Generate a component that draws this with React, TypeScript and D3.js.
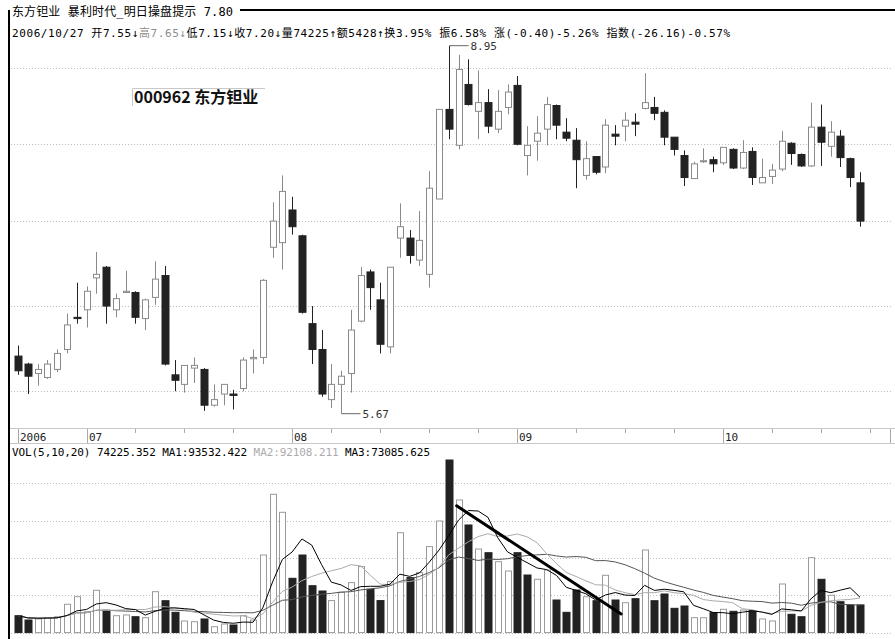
import React, { useEffect, useRef } from "react";
import * as d3 from "d3";

// 东方钽业 000962 日K线, 2006-06-22 ~ 2006-10-27
const dates = [
  "2006-06-22", "2006-06-23", "2006-06-26", "2006-06-27", "2006-06-28", "2006-06-29", "2006-06-30",
  "2006-07-03", "2006-07-04", "2006-07-05", "2006-07-06", "2006-07-07", "2006-07-10", "2006-07-11",
  "2006-07-12", "2006-07-13", "2006-07-14", "2006-07-17", "2006-07-18", "2006-07-19", "2006-07-20",
  "2006-07-21", "2006-07-24", "2006-07-25", "2006-07-26", "2006-07-27", "2006-07-28", "2006-07-31",
  "2006-08-01", "2006-08-02", "2006-08-03", "2006-08-04", "2006-08-07", "2006-08-08", "2006-08-09",
  "2006-08-10", "2006-08-11", "2006-08-14", "2006-08-15", "2006-08-16", "2006-08-17", "2006-08-18",
  "2006-08-21", "2006-08-22", "2006-08-23", "2006-08-24", "2006-08-25", "2006-08-28", "2006-08-29",
  "2006-08-30", "2006-08-31", "2006-09-01", "2006-09-04", "2006-09-05", "2006-09-06", "2006-09-07",
  "2006-09-08", "2006-09-11", "2006-09-12", "2006-09-13", "2006-09-14", "2006-09-15", "2006-09-18",
  "2006-09-19", "2006-09-20", "2006-09-21", "2006-09-22", "2006-09-25", "2006-09-26", "2006-09-27",
  "2006-09-28", "2006-09-29", "2006-10-09", "2006-10-10", "2006-10-11", "2006-10-12", "2006-10-13",
  "2006-10-16", "2006-10-17", "2006-10-18", "2006-10-19", "2006-10-20", "2006-10-23", "2006-10-24",
  "2006-10-25", "2006-10-26", "2006-10-27",
];

const opens = [
  6.09, 6.03, 5.96, 5.93, 5.99, 6.14, 6.39, 6.45, 6.71, 6.80, 6.45, 6.59, 6.59, 6.38, 6.55, 6.73,
  5.95, 5.88, 6.00, 5.99, 5.73, 5.81, 5.81, 5.85, 6.07, 6.08, 6.97, 7.01, 7.30, 7.07, 6.34, 6.14,
  5.77, 5.88, 5.96, 6.36, 6.76, 6.53, 6.16, 7.05, 7.05, 6.86, 6.74, 7.40, 8.27, 7.91, 8.53, 8.25,
  8.34, 8.07, 8.29, 8.52, 7.81, 7.95, 8.07, 8.31, 8.04, 7.96, 7.62, 7.80, 7.70, 8.02, 8.10, 8.14,
  8.28, 8.29, 8.24, 7.99, 7.81, 7.59, 7.75, 7.77, 7.74, 7.87, 7.69, 7.85, 7.55, 7.61, 7.68, 7.93,
  7.82, 7.71, 8.09, 7.90, 8.00, 7.78, 7.55,
];
const highs = [
  6.17, 6.04, 6.03, 6.06, 6.14, 6.42, 6.67, 6.64, 6.93, 6.81, 6.58, 6.77, 6.60, 6.54, 6.85, 6.81,
  6.06, 6.02, 6.08, 6.00, 5.88, 5.88, 5.84, 6.08, 6.14, 6.70, 7.37, 7.62, 7.42, 7.08, 6.48, 6.29,
  6.03, 5.98, 6.45, 6.80, 6.78, 6.67, 6.80, 7.36, 7.12, 7.29, 7.66, 8.27, 8.95, 8.85, 8.80, 8.68,
  8.48, 8.47, 8.53, 8.62, 8.10, 8.20, 8.40, 8.32, 8.18, 8.08, 7.95, 7.80, 8.17, 8.11, 8.24, 8.23,
  8.65, 8.40, 8.26, 7.99, 7.86, 7.75, 7.88, 7.80, 7.89, 7.88, 7.96, 7.89, 7.78, 7.73, 8.05, 7.94,
  7.83, 8.34, 8.32, 8.15, 8.06, 7.79, 7.65,
];
const lows = [
  5.95, 5.81, 5.87, 5.92, 5.97, 6.11, 6.34, 6.31, 6.58, 6.34, 6.39, 6.59, 6.34, 6.29, 6.49, 6.02,
  5.83, 5.82, 5.89, 5.69, 5.72, 5.73, 5.70, 5.83, 5.96, 6.03, 6.88, 6.78, 7.08, 6.42, 6.03, 5.79,
  5.71, 5.67, 5.82, 6.35, 6.45, 6.11, 6.11, 6.88, 6.83, 6.81, 6.63, 7.40, 7.97, 7.87, 8.31, 7.97,
  8.03, 8.03, 8.22, 7.91, 7.62, 7.76, 7.91, 7.97, 7.95, 7.50, 7.58, 7.63, 7.64, 7.91, 7.95, 8.00,
  8.27, 8.16, 7.91, 7.81, 7.52, 7.59, 7.74, 7.65, 7.72, 7.68, 7.68, 7.53, 7.55, 7.54, 7.66, 7.72,
  7.70, 7.70, 7.71, 7.80, 7.70, 7.51, 7.15,
];
const closes = [
  5.98, 5.94, 5.99, 6.03, 6.11, 6.33, 6.38, 6.60, 6.74, 6.48, 6.54, 6.60, 6.39, 6.53, 6.70, 6.03,
  5.91, 6.02, 6.02, 5.73, 5.77, 5.88, 5.80, 6.06, 6.08, 6.69, 7.20, 7.47, 7.15, 6.43, 6.14, 5.81,
  5.88, 5.94, 6.29, 6.73, 6.63, 6.18, 6.80, 7.15, 6.90, 7.03, 7.50, 8.27, 8.07, 8.69, 8.32, 8.34,
  8.10, 8.25, 8.45, 7.92, 7.91, 8.03, 8.32, 8.11, 7.98, 7.77, 7.78, 7.65, 8.11, 8.00, 8.16, 8.12,
  8.34, 8.23, 7.99, 7.87, 7.60, 7.73, 7.76, 7.73, 7.89, 7.69, 7.84, 7.60, 7.60, 7.67, 7.95, 7.83,
  7.71, 8.09, 7.94, 8.04, 7.79, 7.60, 7.20,
];
const volumes = [
  45300, 33800, 36500, 40000, 42600, 75900, 96200, 56000, 113400, 59800, 45300, 47200, 42600, 39900,
  109700, 85500, 54400, 31100, 29200, 36500, 15800, 23100, 20400, 45300, 33800, 208000, 370800,
  322500, 145600, 208000, 125700, 111500, 85800, 108000, 134000, 177000, 116000, 85800, 136700,
  267800, 147500, 160900, 230600, 299200, 462700, 355500, 288500, 224100, 214200, 190100, 165100,
  214200, 154400, 142900, 167800, 87400, 54400, 114200, 96200, 85500, 153600, 87400, 80200, 90900,
  221500, 85500, 103500, 65100, 71300, 39900, 39900, 53400, 62500, 57100, 60600, 58700, 36500,
  31100, 130300, 49100, 42600, 200800, 142900, 100000, 82800, 74000, 74225.352,
];

const maPeriods = [5, 10, 20];
const maShown = ["93532.422", "92108.211", "73085.625"];
const maColors = ["#000000", "#ababab", "#555555"];

const priceGrid = [5.83, 6.48, 7.2, 7.92, 8.71];
const volGrid = [0, 100000, 200000, 300000, 400000];

const titleText = "东方钽业 暴利时代_明日操盘提示 7.80";
const amountText = "额5428↑";
const turnoverText = "换3.95%";
const indexText = "指数(-26.16)-0.57%";
const stockLabel = "000962 东方钽业";

// 手绘趋势线（成交量区）
const trendLine = [
  { i: 44.8, v: 340000 },
  { i: 61.6, v: 50000 },
];

const W = 895;
const H = 639;
const MONO = "'DejaVu Sans Mono', 'Noto Sans CJK SC', monospace";
const CJK = "'Noto Sans CJK SC', 'DejaVu Sans', sans-serif";
const UP_STROKE = "#8a8a8a";
const DOWN_FILL = "#222222";

function movingAvg(vals: number[], n: number) {
  return vals.map((_, i) => d3.mean(vals.slice(Math.max(0, i - n + 1), i + 1)) as number);
}

const App: React.FC = () => {
  const svgRef = useRef<SVGSVGElement | null>(null);

  useEffect(() => {
    const svg = d3.select(svgRef.current);
    svg.selectAll("*").remove();

    const n = dates.length;
    const candles = dates.map((d, i) => ({
      i,
      d,
      o: opens[i],
      h: highs[i],
      l: lows[i],
      c: closes[i],
      v: volumes[i],
      volUp: i > 0 && closes[i] >= closes[i - 1],
    }));

    const x = d3.scaleLinear().domain([0, n - 1]).range([18, 860]);
    const y = d3
      .scaleLog()
      .domain([d3.min(lows) as number, d3.max(highs) as number])
      .range([413.7, 45.7]);
    const yv = d3.scaleLinear().domain([0, 500000]).range([632.6, 446.1]);
    const cx = (i: number) => Math.round(x(i)) + 0.5;

    svg.append("rect").attr("width", W).attr("height", H).attr("fill", "#fff");

    // ===== 价格区网格 =====
    svg
      .append("g")
      .selectAll("line")
      .data(priceGrid)
      .join("line")
      .attr("x1", 11)
      .attr("x2", 893)
      .attr("y1", (d) => Math.round(y(d)) + 0.5)
      .attr("y2", (d) => Math.round(y(d)) + 0.5)
      .attr("stroke", "#bdbdbd")
      .attr("stroke-dasharray", "1,2");

    // ===== K线 =====
    const k = svg.append("g");
    k.selectAll("line")
      .data(candles)
      .join("line")
      .attr("x1", (d) => cx(d.i))
      .attr("x2", (d) => cx(d.i))
      .attr("y1", (d) => y(d.h))
      .attr("y2", (d) => y(d.l))
      .attr("stroke", (d) => (d.c >= d.o ? UP_STROKE : DOWN_FILL))
      .attr("stroke-width", 1);

    k.selectAll("rect")
      .data(candles)
      .join("rect")
      .attr("x", (d) => (d.c >= d.o ? cx(d.i) - 3 : cx(d.i) - 3.5))
      .attr("width", (d) => (d.c >= d.o ? 6 : 7))
      .attr("y", (d) => Math.min(y(d.o), y(d.c)))
      .attr("height", (d) => Math.max(1, Math.abs(y(d.o) - y(d.c))))
      .attr("fill", (d) => (d.c >= d.o ? "#fff" : DOWN_FILL))
      .attr("stroke", (d) => (d.c >= d.o ? UP_STROKE : DOWN_FILL))
      .attr("stroke-width", 1);

    // 最高 / 最低 标注
    const hiIdx = d3.maxIndex(highs);
    const loIdx = d3.minIndex(lows);
    [
      { i: hiIdx, p: highs[hiIdx] },
      { i: loIdx, p: lows[loIdx] },
    ].forEach((m) => {
      const px = cx(m.i);
      const py = y(m.p);
      svg
        .append("line")
        .attr("x1", px)
        .attr("x2", px + 19)
        .attr("y1", py)
        .attr("y2", py)
        .attr("stroke", "#666");
      svg
        .append("text")
        .attr("x", px + 21)
        .attr("y", py + 4)
        .attr("font-family", MONO)
        .attr("font-size", 11)
        .attr("fill", "#333")
        .text(m.p.toFixed(2));
    });

    // 股票名称标签
    svg
      .append("path")
      .attr("d", "M132.5,106 V88.5 H265")
      .attr("fill", "none")
      .attr("stroke", "#c8c8c8");
    svg
      .append("text")
      .attr("x", 134)
      .attr("y", 103)
      .attr("font-family", CJK)
      .attr("font-size", 16)
      .attr("font-weight", "bold")
      .attr("fill", "#111")
      .text(stockLabel);

    // ===== 顶部信息 =====
    const last = candles[n - 1];
    const prev = candles[n - 2];
    const arrow = (a: number, b: number) => (a >= b ? "↑" : "↓");
    const chg = last.c - prev.c;
    const pct = (chg / prev.c) * 100;
    const amp = ((last.h - last.l) / prev.c) * 100;

    svg
      .append("rect")
      .attr("x", 10)
      .attr("y", 3)
      .attr("width", 230)
      .attr("height", 16)
      .attr("fill", "#fff");
    svg
      .append("text")
      .attr("x", 12)
      .attr("y", 16)
      .attr("font-family", MONO)
      .attr("font-size", 12)
      .attr("textLength", 221)
      .attr("lengthAdjust", "spacing")
      .attr("fill", "#000")
      .text(titleText);

    const row2 = svg
      .append("text")
      .attr("x", 12)
      .attr("y", 37)
      .attr("font-family", MONO)
      .attr("font-size", 11)
      .attr("textLength", 718)
      .attr("lengthAdjust", "spacing")
      .attr("fill", "#000");
    row2
      .append("tspan")
      .text(`${last.d.replace(/-/g, "/")} 开${last.o.toFixed(2)}${arrow(last.o, prev.o)}`);
    row2.append("tspan").attr("fill", "#8c8c8c").text(`高${last.h.toFixed(2)}${arrow(last.h, prev.h)}`);
    row2
      .append("tspan")
      .text(
        `低${last.l.toFixed(2)}${arrow(last.l, prev.l)}收${last.c.toFixed(2)}${arrow(last.c, prev.c)}` +
          `量${Math.round(last.v)}${arrow(last.v, prev.v)}${amountText}${turnoverText} ` +
          `振${amp.toFixed(2)}% 涨(${chg.toFixed(2)})${pct.toFixed(2)}% ${indexText}`
      );

    // ===== 日期轴 =====
    const ax = svg.append("g");
    [428.5, 443.5].forEach((yy) =>
      ax
        .append("line")
        .attr("x1", 10)
        .attr("x2", 895)
        .attr("y1", yy)
        .attr("y2", yy)
        .attr("stroke", "#c8c8c8")
    );
    const monthStarts = candles.filter((d, i) => i === 0 || d.d.slice(5, 7) !== dates[i - 1].slice(5, 7));
    const weekStarts = candles.filter((d, i) => {
      if (i === 0) return false;
      const gap = (Date.parse(d.d) - Date.parse(dates[i - 1])) / 86400000;
      if (gap <= 1) return false;
      return !monthStarts.some((m) => Math.abs(m.i - i) <= 3);
    });
    ax.selectAll("line.wk")
      .data([...weekStarts.map((d) => d.i), n])
      .join("line")
      .attr("class", "wk")
      .attr("x1", (i) => cx(i))
      .attr("x2", (i) => cx(i))
      .attr("y1", 429)
      .attr("y2", 433)
      .attr("stroke", "#aaa");
    ax.selectAll("line.mo")
      .data(monthStarts)
      .join("line")
      .attr("class", "mo")
      .attr("x1", (d) => cx(d.i))
      .attr("x2", (d) => cx(d.i))
      .attr("y1", 429)
      .attr("y2", 443)
      .attr("stroke", "#aaa");
    ax.selectAll("text")
      .data(monthStarts)
      .join("text")
      .attr("x", (d) => cx(d.i) + 1.5)
      .attr("y", 440.5)
      .attr("font-family", MONO)
      .attr("font-size", 11)
      .attr("fill", "#222")
      .text((d) => (d.i === 0 ? d.d.slice(0, 4) : d.d.slice(5, 7)));
    ax.append("line").attr("x1", 890.5).attr("x2", 890.5).attr("y1", 429).attr("y2", 443).attr("stroke", "#aaa");

    // ===== 成交量 =====
    const volRow = svg
      .append("text")
      .attr("x", 12)
      .attr("y", 456)
      .attr("font-family", MONO)
      .attr("font-size", 11)
      .attr("textLength", 418)
      .attr("lengthAdjust", "spacing")
      .attr("fill", "#000");
    volRow.append("tspan").text(`VOL(${maPeriods.join(",")}) ${last.v.toFixed(3)} MA1:${maShown[0]} `);
    volRow.append("tspan").attr("fill", maColors[1]).text(`MA2:${maShown[1]}`);
    volRow.append("tspan").text(` MA3:${maShown[2]}`);

    svg
      .append("g")
      .selectAll("line")
      .data(volGrid)
      .join("line")
      .attr("x1", 11)
      .attr("x2", 893)
      .attr("y1", (d) => Math.round(yv(d)) + 0.5)
      .attr("y2", (d) => Math.round(yv(d)) + 0.5)
      .attr("stroke", "#bdbdbd")
      .attr("stroke-dasharray", "1,2");

    svg
      .append("g")
      .selectAll("rect")
      .data(candles)
      .join("rect")
      .attr("x", (d) => (d.volUp ? cx(d.i) - 3 : cx(d.i) - 3.5))
      .attr("width", (d) => (d.volUp ? 6 : 7))
      .attr("y", (d) => yv(d.v))
      .attr("height", (d) => yv(0) - yv(d.v))
      .attr("fill", (d) => (d.volUp ? "#fff" : DOWN_FILL))
      .attr("stroke", (d) => (d.volUp ? "#9a9a9a" : DOWN_FILL));

    const maLine = d3
      .line<number>()
      .x((_, i) => x(i))
      .y((v) => yv(v));
    [2, 1, 0].forEach((m) => {
      svg
        .append("path")
        .attr("d", maLine(movingAvg(volumes, maPeriods[m])))
        .attr("fill", "none")
        .attr("stroke", maColors[m])
        .attr("stroke-width", 1);
    });

    svg
      .append("line")
      .attr("x1", x(trendLine[0].i))
      .attr("y1", yv(trendLine[0].v))
      .attr("x2", x(trendLine[1].i))
      .attr("y2", yv(trendLine[1].v))
      .attr("stroke", "#000")
      .attr("stroke-width", 3)
      .attr("stroke-linecap", "round");

    // ===== 边框 =====
    svg.append("line").attr("x1", 9).attr("x2", 9).attr("y1", 10).attr("y2", H).attr("stroke", "#000").attr("stroke-width", 2);
    svg.append("line").attr("x1", 240).attr("x2", W).attr("y1", 10).attr("y2", 10).attr("stroke", "#000").attr("stroke-width", 2);
  }, []);

  return (
    <svg
      ref={svgRef}
      width={W}
      height={H}
      style={{ position: "absolute", left: 0, top: 0, display: "block" }}
    />
  );
};

export default App;
